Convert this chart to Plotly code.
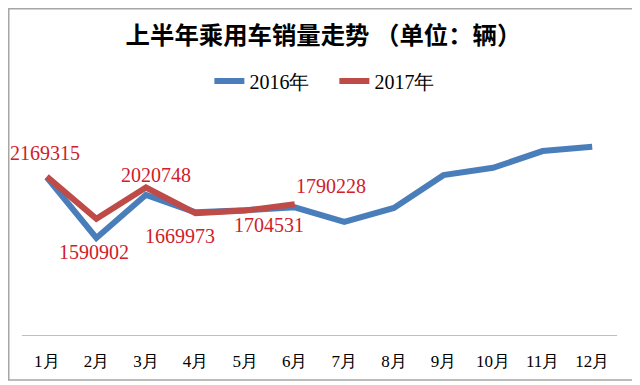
import plotly.graph_objects as go

months = ["1月", "2月", "3月", "4月", "5月", "6月", "7月", "8月", "9月", "10月", "11月", "12月"]
sales_2016 = [2160000, 1330000, 1920000, 1680000, 1710000, 1750000, 1550000, 1740000, 2190000, 2290000, 2520000, 2580000]
months_2017 = ["1月", "2月", "3月", "4月", "5月", "6月"]
sales_2017 = [2169315, 1590902, 2020748, 1669973, 1704531, 1790228]
label_shift_x = [-2, -2, 10, -16, 24, 36]
label_shift_y = [24, -33, 12, -23, -14, 18]

BLUE = "#4A7EBB"
RED = "#BE4B48"
LABEL_RED = "#D0202A"

fig = go.Figure()
fig.add_trace(go.Scatter(x=months, y=sales_2016, mode="lines", name="2016年",
                         line=dict(color=BLUE, width=6)))
fig.add_trace(go.Scatter(x=months_2017, y=sales_2017, mode="lines", name="2017年",
                         line=dict(color=RED, width=6)))

for m, v, dx, dy in zip(months_2017, sales_2017, label_shift_x, label_shift_y):
    fig.add_annotation(x=m, y=v, text=str(v), showarrow=False, xshift=dx, yshift=dy,
                       font=dict(family="Liberation Serif", size=20, color=LABEL_RED))

W, H = 640, 385
ml, mr, mt, mb = 14, 31, 108, 58
pw, ph = W - ml - mr, H - mt - mb

fig.add_shape(type="rect", xref="paper", yref="paper",
              x0=(0.75 - ml) / pw, x1=(627 - ml) / pw,
              y0=(H - mb - 372) / ph, y1=(H - mb - 0.75) / ph,
              line=dict(color="#A6A6A6", width=1.5))

fig.update_layout(
    width=W, height=H,
    margin=dict(l=ml, r=mr, t=mt, b=mb, autoexpand=False),
    paper_bgcolor="white", plot_bgcolor="white",
    title=dict(text="<b>上半年乘用车销量走势 （单位：辆）</b>",
               x=315.5 / W, xanchor="center", y=1 - 27 / H, yanchor="middle",
               font=dict(family="Noto Sans CJK SC", size=24.4, color="black")),
    legend=dict(orientation="h", x=0.525, xanchor="center", y=(H - mb - 73) / ph, yanchor="middle",
                font=dict(family="Liberation Serif", size=20, color="black"),
                itemwidth=30, tracegroupgap=0, entrywidth=80, entrywidthmode="pixels"),
    showlegend=True,
    xaxis=dict(range=[-0.5, 11.5], showline=True, linecolor="#BFBFBF", linewidth=1,
               showgrid=False, ticks="", automargin=False,
               tickfont=dict(family="Liberation Serif", size=17, color="black"),
               ticklabelstandoff=11, fixedrange=True),
    yaxis=dict(range=[0, 3000000], showticklabels=False, showgrid=False, zeroline=False,
               showline=False, automargin=False),
)

fig.write_html("out.html")
